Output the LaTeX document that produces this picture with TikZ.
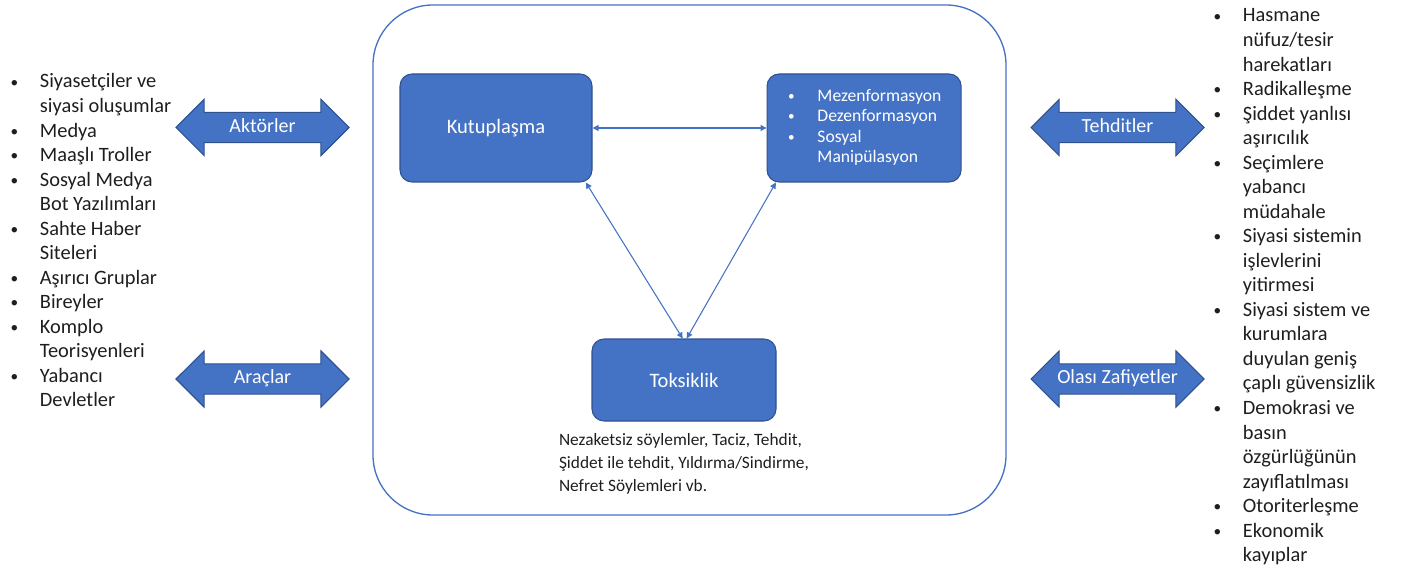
\documentclass[tikz,border=0pt]{standalone}
\usepackage{fontspec}
\setmainfont{Carlito}
\usetikzlibrary{shapes.arrows, arrows.meta, positioning}
\definecolor{boxblue}{HTML}{4472C4}
\definecolor{edgeblue}{HTML}{2F528F}
\definecolor{listgray}{HTML}{1E1E1E}
\newcommand{\dotmark}{\hspace{1pt}\raisebox{0.1ex}{\scalebox{0.75}{\textbullet}}}
\tikzset{
	topic/.style={draw=edgeblue, fill=boxblue, rounded corners=9pt, text=white, line width=0.8pt, font=\fontsize{15.4}{18}\selectfont},
	link/.style={double arrow, draw=edgeblue, fill=boxblue, text=white, line width=0.8pt, minimum height=129.75pt, minimum width=41.25pt, double arrow head extend=9.75pt, double arrow tip angle=90, text height=9pt, text depth=2pt, inner ysep=5.4pt, inner xsep=2pt, font=\fontsize{15}{17}\selectfont},
	% plain lists at the sides
	bullets/.style={text=listgray, inner sep=0pt, anchor=base west, font=\fontsize{15.3}{18.4}\selectfont},
	caption/.style={text=listgray, inner sep=0pt, align=left, font=\fontsize{13}{17.25}\selectfont},
	relation/.style={boxblue, line width=0.8pt, {Triangle[width=4.5pt,length=4.5pt]}-{Triangle[width=4.5pt,length=4.5pt]}},
}

\begin{document}
\begin{tikzpicture}[x=0.75pt, y=-0.75pt]
	\useasboundingbox (0,0) rectangle (1402,570);
	
	\node (frame) [draw=boxblue, line width=1pt, rounded corners=45pt, minimum width=474.75pt, minimum height=382.5pt] at (689.5,260) {};
	
	\node (kutup) [topic, minimum width=144pt, minimum height=81pt] at (496,128) {Kutuplaşma};
	\node (mis) [topic, minimum width=145.5pt, minimum height=81pt, right=130.5pt of kutup, font=\fontsize{13.2}{15.4}\selectfont] {\begin{tabular}{@{}p{23pt}@{}l@{}}
			\dotmark & Mezenformasyon\\
			\dotmark & Dezenformasyon\\
			\dotmark & Sosyal\\
			& Manipülasyon
		\end{tabular}};
	\node (toks) [topic, minimum width=138pt, minimum height=61.5pt] at (684,380) {Toksiklik};
	\node (toksnote) [caption, below=9pt of toks] {Nezaketsiz söylemler, Taciz, Tehdit,\\ Şiddet ile tehdit, Yıldırma/Sindirme,\\ Nefret Söylemleri vb.};
	
	\node (aktor) [link] at (262.5,127.5) {Aktörler};
	\node (arac) [link] at (262.5,379) {Araçlar};
	\node (tehdit) [link] at (1117.5,127.5) {Tehditler};
	\node (zafiyet) [link] at (1117.5,379) {Olası Zafiyetler};
	
	\node (actors) [bullets] at (9,88) {\begin{tabular}[t]{@{}p{23pt}@{}l@{}}
			\dotmark & Siyasetçiler ve\\
			& siyasi oluşumlar\\
			\dotmark & Medya\\
			\dotmark & Maaşlı Troller\\
			\dotmark & Sosyal Medya\\
			& Bot Yazılımları\\
			\dotmark & Sahte Haber\\
			& Siteleri\\
			\dotmark & Aşırıcı Gruplar\\
			\dotmark & Bireyler\\
			\dotmark & Komplo\\
			& Teorisyenleri\\
			\dotmark & Yabancı\\
			& Devletler
		\end{tabular}};
	
	\node (threats) [bullets] at (1212,22) {\begin{tabular}[t]{@{}p{23pt}@{}l@{}}
			\dotmark & Hasmane\\
			& nüfuz/tesir\\
			& harekatları\\
			\dotmark & Radikalleşme\\
			\dotmark & Şiddet yanlısı\\
			& aşırıcılık\\
			\dotmark & Seçimlere\\
			& yabancı\\
			& müdahale\\
			\dotmark & Siyasi sistemin\\
			& işlevlerini\\
			& yitirmesi\\
			\dotmark & Siyasi sistem ve\\
			& kurumlara\\
			& duyulan geniş\\
			& çaplı güvensizlik\\
			\dotmark & Demokrasi ve\\
			& basın\\
			& özgürlüğünün\\
			& zayıflatılması\\
			\dotmark & Otoriterleşme\\
			\dotmark & Ekonomik\\
			& kayıplar
		\end{tabular}};
	
	\begin{scope}[relation]
		\draw (kutup) -- (mis);
		\draw ([xshift=-5pt]kutup.south east) -- ([xshift=-1pt]toks.north);
		\draw ([xshift=7pt]mis.south west) -- ([xshift=2pt]toks.north);
	\end{scope}
	
\end{tikzpicture}
\end{document}
